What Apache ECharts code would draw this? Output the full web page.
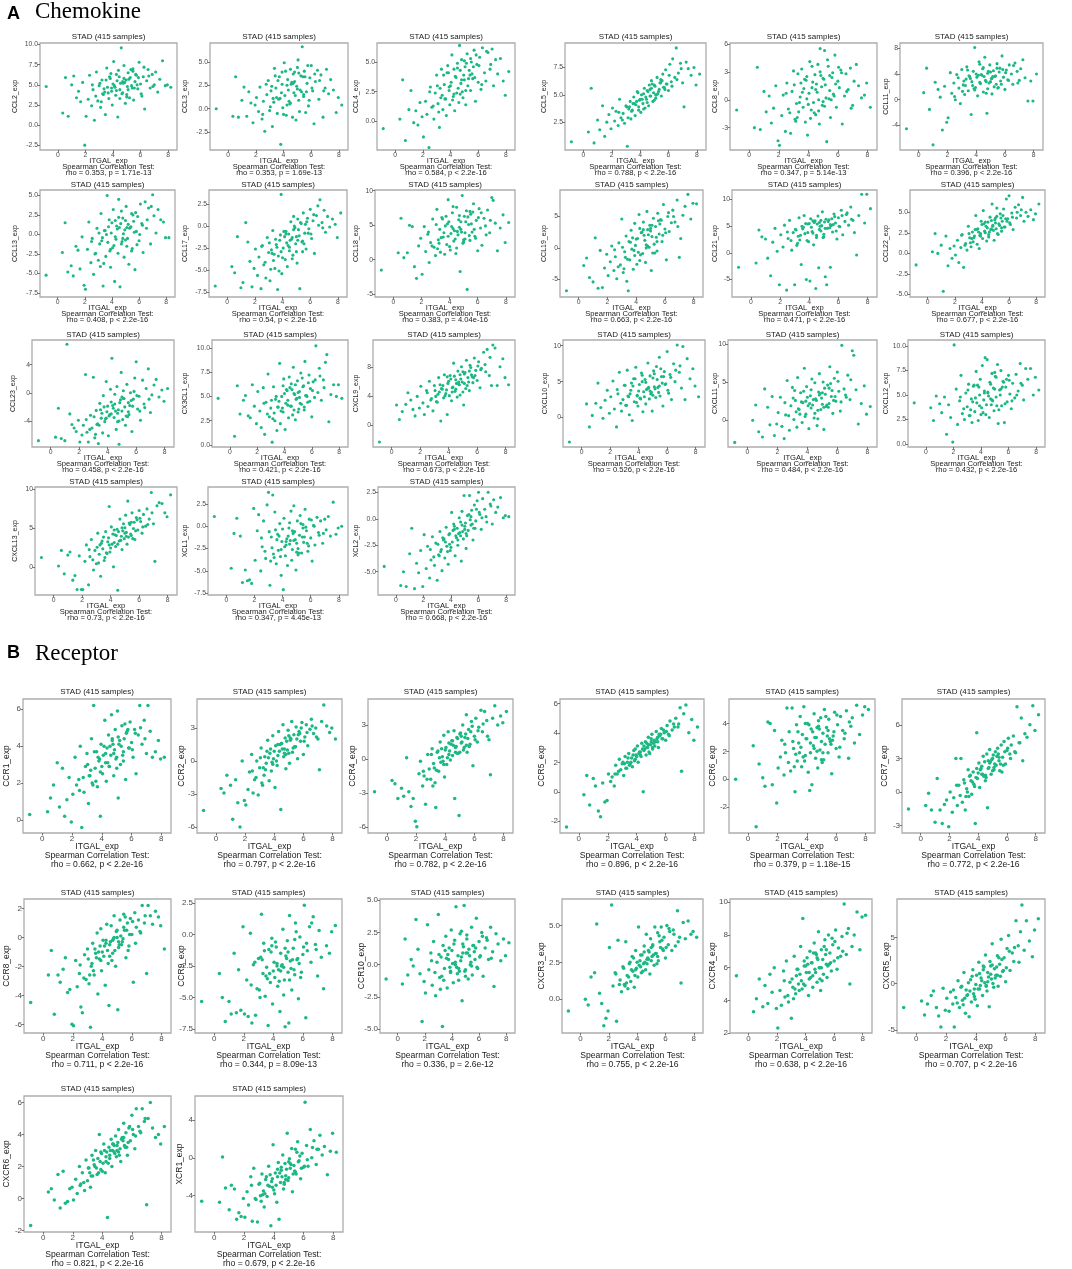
<!DOCTYPE html>
<html><head><meta charset="utf-8">
<script src="https://cdn.jsdelivr.net/npm/echarts@6.0.0/dist/echarts.min.js"></script>
<style>html,body{margin:0;padding:0;background:#fff}#c{width:1072px;height:1269px}</style>
</head><body><div id="c"></div>
<script>
// Shared x values (ITGAL_exp, same samples in every panel)
const ITGAL = [-0.85,0.35,0.55,0.75,1.0,1.15,1.35,1.5,1.65,1.8,1.95,2.05,
2.2,2.3,2.45,2.55,2.65,2.8,2.9,3.0,3.1,3.2,3.3,3.35,
3.45,3.55,3.65,3.7,3.8,3.9,3.95,4.05,4.1,4.2,4.3,4.35,
4.45,4.5,4.6,4.65,4.75,4.8,4.9,4.95,5.05,5.1,5.2,5.25,
5.35,5.45,5.5,5.6,5.7,5.8,5.9,6.0,6.1,6.2,6.3,6.45,
6.55,6.7,6.85,7.0,7.1,7.25,7.4,7.6,7.8,7.95,8.2,4.55,
3.25,3.6,3.85,4.0,4.25,4.4,4.7,4.85,5.0,5.15,5.4,5.65,
2.75,3.05,3.4,3.75,4.15,4.5,4.8,5.1,5.45,5.75,6.05,6.6,
2.5,3.15,3.5,3.9,4.25,4.7,5.0,5.3,5.55,5.85,6.25,6.9];

const CCL2 = [4.8,1.5,5.9,1.1,5.0,6.1,3.4,4.2,2.9,5.3,-2.5,1.1,
3.2,6.2,2.4,4.4,0.6,6.6,3.0,4.9,2.2,5.6,3.8,4.5,
1.3,7.1,4.0,3.3,5.8,4.6,2.5,7.9,4.9,3.7,5.5,1.0,
6.0,4.4,9.6,3.9,5.2,7.4,2.7,5.6,4.8,6.5,3.4,5.9,
4.9,7.0,3.1,5.4,6.2,4.5,7.8,5.1,3.6,6.0,2.0,5.5,
6.9,4.6,6.3,5.0,6.6,4.1,5.7,8.0,4.9,5.0,4.7,5.2,
3.9,4.7,6.4,5.1,4.3,6.8,4.0,5.3,3.5,5.7,4.6,6.3,
3.6,5.2,4.1,6.0,4.7,3.3,5.8,4.4,6.7,5.0,3.9,6.1,
5.0,2.9,5.6,4.2,6.3,5.4,3.8,6.9,4.6,5.9,7.2,4.8];
const CCL3 = [0.0,-0.8,3.4,-0.9,0.9,2.3,-0.8,1.8,0.6,-1.5,0.4,1.2,
-0.3,2.3,-1.1,0.8,-2.4,1.5,3.0,-0.2,1.9,-1.9,0.7,4.3,
2.2,-0.5,1.0,3.4,-3.8,2.6,0.1,4.9,1.4,-0.7,3.1,2.0,
0.5,4.2,2.8,-0.9,1.7,3.9,-1.2,2.4,5.2,0.9,2.0,3.5,
6.6,1.3,4.0,-0.4,2.7,0.3,3.3,4.6,1.9,-1.6,2.9,4.1,
1.0,3.6,-0.9,2.2,4.2,1.6,3.1,2.0,-0.4,1.2,0.4,2.6,
1.1,3.0,1.7,-0.6,2.5,0.8,3.7,1.4,2.1,-0.3,3.4,1.8,
2.6,0.2,3.5,1.1,4.0,0.6,2.9,3.8,1.5,4.6,2.2,3.0,
-0.6,2.4,1.2,3.9,0.4,2.7,4.4,1.8,3.4,0.9,3.7,1.9];
const CCL4 = [-0.6,0.2,3.5,-1.6,1.0,2.6,-0.1,0.9,-0.3,1.6,0.4,-1.3,
1.7,0.6,-2.2,2.9,1.2,0.2,2.4,3.9,1.5,-0.5,2.0,4.4,
1.0,3.1,1.9,0.5,4.7,2.6,1.4,3.3,5.6,2.1,0.9,3.8,
2.4,4.5,1.6,6.4,3.2,5.2,2.0,3.9,4.6,1.4,5.7,3.0,
4.3,2.6,5.0,3.6,6.0,1.7,4.8,3.3,5.4,2.7,6.2,4.1,
3.4,5.8,4.4,6.1,3.0,5.2,4.0,5.3,3.4,2.2,4.2,2.8,
2.8,1.9,4.1,3.0,2.3,3.7,4.3,2.5,3.5,4.9,3.9,4.6,
1.3,3.0,2.2,4.1,1.8,4.9,3.5,2.6,5.3,3.7,4.7,5.9,
2.5,0.8,3.9,2.9,4.4,2.3,5.1,3.6,4.0,5.6,3.1,4.8];
const CCL5 = [0.7,1.6,5.6,0.6,2.7,1.8,4.0,1.2,2.5,3.2,1.9,3.8,
2.6,3.5,2.2,4.6,2.9,3.3,2.4,4.0,0.3,3.7,4.4,2.8,
3.6,4.8,3.1,4.1,5.3,3.9,4.5,3.4,5.0,4.2,5.6,3.8,
4.6,5.4,4.0,5.9,4.9,6.3,4.4,5.2,5.8,4.7,6.6,5.1,
5.5,6.4,4.9,6.9,5.7,7.3,6.0,5.4,7.8,6.2,8.3,6.6,
9.3,7.0,7.9,6.1,3.9,8.0,7.4,6.8,7.5,5.9,6.9,5.3,
3.9,4.2,5.2,4.6,3.7,4.8,5.5,6.0,4.5,5.0,6.1,5.7,
2.7,3.9,3.5,4.4,4.6,4.3,5.6,5.0,6.1,5.5,6.8,6.4,
3.4,2.9,4.2,3.6,5.1,4.9,5.9,5.3,6.3,6.0,5.8,7.4];
const CCL8 = [-1.1,-3.0,3.5,-3.2,0.9,-1.3,0.4,-2.5,-0.9,1.5,-4.4,-4.9,
-1.7,0.5,-3.4,1.8,-1.0,-3.6,0.9,3.1,-2.1,-0.4,2.8,-1.3,
0.3,3.3,-0.8,1.2,-2.4,2.5,-3.8,0.7,4.1,-1.1,1.9,-0.3,
2.7,-1.6,0.8,3.8,-2.6,5.5,1.4,-0.6,2.2,5.3,0.2,-4.5,
3.6,1.0,-1.9,2.4,0.6,4.8,-0.8,2.0,1.3,3.2,-2.6,0.4,
2.8,1.1,3.4,-0.6,2.0,3.8,1.5,0.2,0.5,1.8,-0.8,1.7,
-1.9,0.8,2.1,-0.5,1.3,-1.4,0.0,2.6,-0.2,1.6,0.1,2.9,
-1.4,1.6,-0.3,2.2,-2.0,1.1,3.0,-0.7,2.6,0.4,3.5,0.9,
0.7,-2.3,1.8,0.1,3.6,-1.2,2.3,4.3,0.0,1.7,2.9,-0.9];
const CCL11 = [-4.5,1.1,4.9,-1.5,-7.0,2.7,1.6,0.4,-4.7,2.1,-3.5,-2.8,
4.2,1.0,2.6,0.0,3.9,1.8,-0.6,4.7,2.3,0.8,3.2,5.1,
1.4,3.6,-2.3,2.8,4.4,8.1,1.9,3.5,0.6,5.9,2.5,3.9,
4.8,1.2,6.6,3.0,-2.1,4.1,2.6,5.4,3.3,0.9,4.5,2.0,
3.7,5.6,1.8,4.3,2.9,6.8,3.5,1.6,4.6,3.1,5.4,4.0,
2.4,5.7,4.4,3.0,4.8,6.2,3.4,-0.2,2.9,-0.2,4.0,3.6,
2.2,3.3,1.7,4.0,2.7,3.8,1.0,4.4,2.8,3.6,2.4,4.9,
3.4,1.3,4.6,2.2,3.8,5.0,1.7,3.3,4.9,2.4,4.2,5.3,
0.5,2.9,3.7,1.5,5.5,2.8,4.3,3.6,1.9,4.7,3.0,2.6];
const CCL13 = [-5.2,-2.3,1.5,-4.8,-4.0,-5.3,-1.5,-2.0,-4.4,-0.3,-6.5,-7.0,
-1.9,1.6,-3.6,-0.5,-5.1,-2.4,0.8,-3.3,-1.2,2.7,-0.4,-6.6,
0.5,-2.8,5.0,-1.0,1.9,-4.2,0.2,-1.7,3.2,-6.0,-0.6,1.1,
-2.4,4.5,-6.7,1.4,-0.9,2.1,-2.9,0.6,3.6,-1.5,1.3,-3.8,
0.9,2.7,-1.8,1.7,-4.5,0.4,2.3,-0.8,3.9,1.4,-2.3,4.2,
0.8,3.4,-1.2,5.1,2.4,0.2,3.2,1.9,1.6,-0.4,-0.4,0.9,
-0.8,0.0,-2.1,1.5,-0.3,0.7,-1.2,0.1,1.8,-0.5,1.0,0.3,
-2.5,0.2,-3.7,1.0,-1.4,2.2,-0.5,0.9,-2.1,2.8,0.0,1.9,
-0.9,-4.1,0.5,-1.9,1.8,3.0,-0.7,0.8,2.5,-1.3,1.2,3.6];
const CCL17 = [-6.8,-4.6,-5.3,-1.2,-7.0,-6.4,0.4,-1.8,-4.0,-6.9,-4.8,-2.6,
-5.6,-3.5,-7.1,-2.2,-4.4,-5.9,-1.3,-3.0,-6.2,-2.7,-0.5,-3.9,
-4.8,-2.1,-7.2,-3.4,-1.6,3.6,-5.4,-2.5,-0.6,-3.8,-1.9,-4.6,
-0.9,-2.8,0.5,-1.5,-3.3,1.1,-0.2,-2.0,-4.2,0.8,-1.1,-7.1,
0.3,-1.7,1.5,-0.8,-2.6,0.9,-0.3,1.9,-1.4,0.6,-3.1,1.2,
2.3,3.0,0.4,1.8,-0.7,1.1,-0.1,0.8,0.2,-1.3,1.5,-1.6,
-3.1,-2.4,-1.0,-3.6,-0.9,-2.2,-1.3,0.0,-2.9,-0.4,-1.8,0.2,
-4.1,-1.9,-3.2,-5.1,-1.2,-2.4,-0.4,-1.6,-2.9,0.5,-0.9,0.1,
-2.3,-4.9,-1.5,-2.9,-0.6,-3.7,-1.2,0.4,-2.0,-0.8,1.3,-0.2];
const CCL18 = [-1.5,1.0,6.0,0.3,1.0,5.0,4.8,-1.0,-2.7,2.0,3.1,-2.1,
4.8,1.2,3.7,-0.4,2.5,5.9,1.8,0.6,7.3,2.9,4.4,1.1,
6.1,3.3,0.8,4.9,2.2,8.7,5.5,1.4,3.8,6.8,2.7,4.2,
0.9,7.6,3.6,5.8,-1.7,4.4,9.3,2.4,6.3,3.0,7.1,-4.3,
5.1,2.8,6.6,4.0,8.1,3.4,5.7,1.3,7.4,4.6,2.1,6.0,
4.9,7.2,3.9,9.0,8.6,5.3,1.3,4.6,6.5,2.5,5.4,4.1,
2.4,3.9,5.2,1.9,4.5,3.0,6.4,4.0,2.9,5.5,3.5,6.9,
2.0,5.1,3.2,6.3,4.8,1.7,5.5,3.9,7.0,4.4,6.1,3.6,
4.0,1.6,5.9,3.4,7.7,4.7,2.6,6.2,5.2,3.1,6.8,5.7];
const CCL19 = [-6.8,-2.8,-1.6,-4.7,-5.4,1.6,-6.4,-0.4,-6.3,-3.2,-1.0,-4.4,
-2.2,0.3,-3.6,-1.4,-4.9,0.8,-2.7,4.6,-3.9,-0.6,1.9,-5.3,
-6.8,-1.9,2.8,-0.2,-3.4,3.9,0.4,-2.6,1.5,5.3,-1.1,2.4,
-0.9,4.1,1.2,-2.3,5.8,2.9,0.1,3.6,-3.6,1.8,4.7,0.6,
3.4,-0.5,5.5,2.2,4.5,1.0,6.9,3.0,-1.9,5.0,2.6,4.0,
6.0,4.1,7.6,-1.5,1.5,5.2,6.6,8.5,4.6,7.1,7.0,2.0,
-1.5,0.9,-0.4,1.4,-2.0,2.5,0.0,2.1,3.1,-0.8,1.7,3.8,
-3.0,0.1,-1.8,1.6,-0.7,2.9,0.3,3.6,1.0,4.4,2.4,5.0,
-0.3,-3.3,1.0,-1.2,3.1,0.5,2.7,-0.8,4.3,2.0,5.6,3.4];
const CCL21 = [-2.7,-1.9,4.3,3.0,2.6,-1.0,-4.3,2.0,4.6,0.3,-6.0,3.4,
1.1,5.2,-7.0,2.7,6.1,0.5,3.8,-6.0,4.3,1.8,6.6,2.4,
-2.2,4.5,7.0,3.6,-5.0,5.4,2.1,-5.3,6.4,4.0,1.5,5.7,
-6.7,3.3,6.9,-2.8,5.0,4.1,7.7,2.9,5.8,-4.5,-6.0,4.6,
6.2,-2.7,5.1,3.9,7.3,5.6,2.6,6.6,4.9,8.0,3.4,5.9,
7.2,5.2,8.6,6.1,3.8,-0.4,7.0,11.0,5.6,11.0,8.3,5.4,
3.1,4.8,2.3,5.5,3.7,6.0,4.4,5.1,3.0,6.3,4.7,5.3,
2.3,4.4,3.3,5.5,4.8,2.9,6.1,4.6,5.3,6.8,5.0,7.5,
3.9,1.4,5.0,3.8,6.0,5.7,3.5,5.9,6.4,4.1,7.0,6.3];
const CCL22 = [-1.4,0.2,2.4,0.0,1.0,-4.6,2.1,-1.5,0.6,-0.6,0.9,-0.2,
1.6,-1.1,0.7,2.3,-1.7,1.2,0.4,3.3,1.9,0.8,2.6,1.4,
2.1,4.6,1.1,3.0,0.6,2.4,3.9,1.8,5.2,2.7,3.3,1.5,
3.8,2.0,4.4,2.9,6.0,3.4,1.6,4.1,3.0,5.5,2.3,3.6,
4.8,2.7,3.9,5.4,3.2,6.6,4.2,7.0,3.5,4.9,2.9,5.6,
4.3,5.9,4.6,6.8,3.9,5.0,4.5,5.3,4.1,4.8,6.0,2.6,
1.8,2.9,2.2,3.5,2.5,3.1,4.0,2.8,3.7,2.4,4.3,3.2,
1.0,2.4,1.9,2.6,3.6,2.3,3.3,4.5,3.1,4.2,3.7,5.0,
2.2,1.3,2.9,2.1,3.8,3.0,4.3,3.4,4.6,3.9,4.4,5.3];
const CCL23 = [-6.8,-6.3,-2.2,-6.5,-6.8,6.9,-3.0,-4.5,-5.0,-5.5,-3.9,-7.0,
-6.0,-4.6,2.6,-5.6,-7.0,-3.2,-5.0,2.2,-6.4,-2.5,-4.4,-7.2,
-1.5,-3.6,-5.7,-0.4,-4.1,1.6,-2.7,-6.1,-3.3,0.5,4.9,-1.8,
-3.5,-0.2,-5.2,0.9,-2.4,-7.3,-1.0,2.9,-3.8,0.3,-2.0,-4.6,
1.2,-1.4,-3.1,0.0,-5.5,-0.9,2.1,4.4,-2.3,-0.5,-3.9,1.8,
-1.6,0.6,3.4,-2.8,-0.3,1.1,1.9,-0.6,0.4,-1.2,0.6,-2.6,
-4.5,-2.9,-3.7,-1.9,-3.0,-2.2,-4.1,-1.4,-2.6,-0.8,-3.4,-1.1,
-5.2,-3.4,-4.6,-2.0,-3.1,-1.6,-4.0,-0.8,-2.7,-1.9,-0.4,-2.1,
-3.8,-5.9,-2.4,-3.6,-1.3,-2.9,-0.6,-3.3,-1.8,0.2,-2.6,-0.9];
const CX3CL1 = [4.8,0.9,6.1,3.2,4.6,5.1,3.0,2.8,6.2,4.0,2.2,5.5,
3.5,1.8,5.9,1.1,4.4,7.3,2.9,3.8,0.3,6.0,2.5,4.7,
1.5,3.9,8.4,2.2,5.0,3.4,6.8,1.6,4.3,5.6,2.8,7.0,
4.0,6.3,3.1,8.0,5.2,2.6,4.8,6.6,3.7,5.5,7.4,4.2,
6.0,3.6,8.6,5.1,4.4,7.2,5.8,2.9,6.5,4.9,10.2,5.4,
7.9,4.6,6.7,8.5,9.3,2.4,5.2,6.2,5.0,6.2,4.8,5.7,
3.3,4.5,3.8,5.3,4.1,5.9,3.6,4.7,5.4,4.3,6.1,5.0,
3.2,4.6,5.0,3.5,5.7,4.0,6.2,4.9,3.9,6.4,5.6,7.1,
4.3,2.7,3.9,6.1,4.6,5.3,3.4,6.9,5.1,4.5,6.7,5.9];
const CXCL9 = [-2.3,2.8,0.8,1.9,2.9,4.5,3.5,2.2,1.3,4.0,2.4,5.4,
3.1,1.5,4.8,2.6,6.1,3.7,2.0,5.5,4.0,3.2,6.6,4.6,
0.6,5.0,3.8,7.0,4.4,1.5,5.8,4.1,6.9,3.4,5.3,8.6,
4.7,6.3,3.9,7.5,5.6,4.2,8.1,6.0,2.8,7.1,5.1,9.0,
6.6,4.8,8.3,7.0,5.9,9.3,7.6,6.2,8.8,5.2,7.9,10.1,
8.4,10.5,6.9,5.5,11.1,10.7,5.5,8.1,9.2,6.6,5.6,5.8,
4.3,5.5,4.9,6.1,5.2,6.8,5.7,6.4,4.6,7.3,6.0,6.7,
3.5,4.8,5.6,4.1,6.4,5.0,7.0,5.8,7.5,6.6,8.2,7.4,
4.5,3.3,5.1,6.7,4.6,6.0,7.4,5.5,8.0,6.9,7.7,9.4];
const CXCL10 = [-3.4,1.9,-1.3,0.3,2.0,4.8,1.4,-0.1,2.4,3.8,0.6,2.9,
5.1,1.2,-1.3,3.3,6.3,0.9,2.5,4.5,1.7,6.6,2.9,0.4,
3.8,-0.4,5.4,2.2,7.0,3.1,1.6,4.6,2.7,6.2,0.8,3.6,
5.3,1.9,4.0,7.6,2.6,5.8,3.5,0.9,6.5,4.3,2.8,7.1,
4.2,8.4,3.0,5.7,1.6,6.4,4.7,9.2,3.4,6.0,2.5,7.5,
5.0,10.1,6.3,4.1,9.9,2.5,8.2,5.4,6.8,4.4,2.9,3.9,
3.0,4.4,2.1,3.7,5.0,2.9,4.1,3.3,5.5,4.0,3.5,4.8,
2.0,4.5,3.3,5.4,2.6,4.9,3.7,6.1,4.4,5.7,3.8,6.6,
3.9,1.7,4.8,3.0,5.9,4.2,3.1,5.3,6.8,4.6,5.6,7.2];
const CXCL11 = [-2.9,0.0,2.0,-1.5,-2.2,4.1,1.7,-0.6,3.1,-2.0,-0.5,1.0,
3.0,-0.8,-2.4,0.7,5.2,-1.3,1.9,4.3,0.1,2.6,-0.9,5.6,
1.4,3.6,-0.3,2.3,6.8,0.8,4.4,1.9,-1.1,3.2,5.4,2.0,
0.3,4.9,2.6,-0.7,3.7,6.1,1.4,2.9,5.0,-1.2,3.4,1.8,
4.6,2.2,7.0,3.1,0.9,5.5,2.5,6.3,3.8,1.2,9.8,4.1,
3.3,5.9,2.7,9.1,8.5,4.0,-0.5,2.2,4.5,0.8,1.8,2.8,
1.1,2.4,0.5,3.0,1.6,2.7,0.2,3.5,2.1,4.2,1.7,3.9,
0.6,2.9,1.5,3.8,2.2,0.9,3.3,1.7,4.2,2.6,5.1,3.0,
2.3,3.9,0.8,2.5,4.0,1.3,3.6,2.0,4.8,3.1,2.4,5.3];
const CXCL12 = [4.2,3.7,2.4,4.9,4.1,3.2,4.8,1.0,4.0,2.7,0.2,10.1,
5.6,2.0,4.4,7.0,3.1,2.5,5.2,3.8,6.1,2.9,4.6,2.2,
5.9,3.3,7.4,4.2,2.4,5.0,6.6,3.7,8.0,4.5,8.8,3.0,
8.6,5.3,2.7,6.3,4.0,7.2,5.7,3.4,6.9,4.8,8.1,2.1,
5.5,7.5,3.9,6.4,2.2,5.8,4.3,7.0,5.1,3.6,6.2,4.7,
7.1,5.4,8.2,6.0,4.5,7.7,6.6,7.7,5.0,6.8,5.5,4.9,
3.5,4.7,5.8,3.0,5.2,4.0,6.1,4.4,5.6,3.9,5.0,6.3,
3.6,5.5,4.3,6.0,3.2,5.2,4.5,6.8,5.6,4.1,6.5,5.0,
4.8,2.9,6.0,3.9,5.4,4.6,7.3,3.5,5.8,6.6,4.4,6.2];
const CXCL13 = [1.3,0.2,2.2,-0.8,1.6,2.0,-1.6,-1.0,-2.8,1.5,-2.8,-2.8,
0.8,2.9,-2.2,1.4,3.6,-0.3,2.2,0.5,4.4,1.7,-1.1,3.1,
2.4,0.9,4.6,1.9,3.3,7.8,2.0,5.2,3.0,0.1,4.2,2.7,
4.9,-2.9,3.4,6.2,4.0,2.3,5.6,3.7,6.7,4.5,8.5,3.9,
5.5,4.1,7.0,5.0,3.6,6.4,4.8,7.3,5.9,4.4,6.8,5.3,
7.5,6.2,9.6,5.6,0.8,7.9,8.3,8.2,7.0,6.5,9.3,4.6,
2.9,1.3,3.8,2.5,3.2,4.1,3.5,4.7,5.1,3.0,4.3,5.8,
1.0,2.6,3.4,1.8,4.3,3.0,5.1,4.0,5.8,4.7,6.3,5.5,
2.3,0.6,3.9,2.9,4.8,3.5,4.4,5.7,3.7,6.1,5.2,7.0];
const XCL1 = [1.1,-4.7,-0.8,0.9,-1.1,-6.3,-4.9,-6.1,-6.0,-6.4,2.0,-3.8,
-0.5,1.3,-5.0,-2.3,0.6,-3.6,2.4,3.8,-6.6,-1.2,3.5,-3.1,
1.6,-4.2,-0.9,-2.7,0.3,-5.5,-1.7,-7.1,0.9,-3.3,-1.4,-4.4,
-0.2,-2.0,1.7,-3.8,-0.8,2.3,-1.5,-4.9,0.6,-2.5,-1.0,1.2,
-3.0,0.2,-1.8,1.9,-0.5,-2.8,0.8,-1.3,-3.9,0.1,-2.1,1.0,
-0.7,0.6,-1.9,0.8,-0.4,1.1,-1.1,2.7,-0.9,-0.2,0.0,-1.6,
-2.4,-1.5,-3.4,-0.3,-2.1,-1.1,-2.6,-0.6,-1.9,-3.0,-1.2,-0.1,
-2.8,-0.6,-3.5,-1.1,-2.3,0.4,-1.6,-3.2,-0.2,-1.9,0.7,-1.0,
-1.3,-3.9,-0.4,-2.6,-1.7,-0.5,-2.9,0.3,-1.2,-2.2,0.0,-0.8];
const XCL2 = [-4.5,-6.3,-5.0,-6.4,-3.3,-0.9,-6.6,-4.2,-5.1,-3.0,-6.4,-1.5,
-4.7,-2.6,-5.6,-3.9,-1.7,-4.4,-2.3,-5.8,-3.4,-1.2,-2.9,-4.9,
-2.0,-3.7,-0.8,-2.6,-4.3,-1.4,-3.0,0.6,-2.2,-0.5,-3.5,-1.6,
-0.9,-2.5,0.1,-1.3,-4.0,0.7,-1.9,2.2,-0.4,-2.8,0.3,-1.1,
2.2,-0.6,0.8,-2.0,1.3,-0.2,1.7,2.5,0.4,-1.0,1.9,0.9,
0.2,2.5,1.4,-0.5,1.8,0.6,1.1,2.0,0.1,0.3,0.2,-1.4,
-3.1,-2.2,-1.5,-2.7,-1.0,-1.8,-0.3,-1.2,-0.7,-1.6,-0.1,-0.9,
-3.6,-2.4,-1.8,-3.1,-1.1,-2.0,-0.6,-1.4,0.2,-0.9,0.6,-0.3,
-2.9,-3.5,-1.9,-2.4,-0.7,-1.6,-1.0,0.4,-0.5,0.9,0.1,1.2];
const CCR1 = [0.3,0.45,1.2,1.9,3.1,0.7,2.8,0.2,1.1,2.3,-0.1,1.4,
3.4,1.9,2.2,4.0,-0.4,1.5,2.9,3.6,0.9,2.4,4.4,2.0,
6.2,2.8,3.7,1.8,3.2,0.2,4.1,2.5,3.5,5.4,2.1,3.9,
4.6,2.9,3.5,5.7,4.1,2.4,4.9,3.3,5.9,1.2,4.3,3.0,
5.1,3.7,4.4,2.2,4.8,3.9,5.3,4.2,3.4,4.9,2.5,4.6,
6.2,4.1,5.4,3.6,6.2,4.8,3.4,3.7,4.3,3.3,3.4,4.0,
2.7,2.1,3.3,2.9,3.6,3.1,4.4,3.8,2.8,4.1,3.5,4.7,
2.3,3.0,1.9,3.4,4.0,2.9,3.6,4.5,3.2,4.9,3.8,5.0,
1.6,2.4,3.7,2.6,3.1,4.3,3.4,4.0,5.2,3.9,4.7,4.4];
const CCR2 = [-4.5,-2.5,-2.9,-1.3,-2.2,-5.3,-1.7,-3.8,-6.0,0.0,-3.6,-4.0,
-2.6,-1.0,0.6,-2.9,-1.7,0.0,-3.1,-0.6,1.2,-2.2,-1.3,0.4,
-0.2,1.9,-1.8,0.7,-0.9,2.3,0.2,-2.4,1.4,-0.4,2.7,0.9,
-4.4,1.6,3.3,0.4,2.1,-0.7,1.0,2.8,-0.2,1.9,3.6,0.8,
2.4,1.3,3.1,0.2,2.7,1.8,3.5,0.6,2.2,3.3,1.4,2.9,
3.8,2.5,3.0,2.0,-0.8,3.6,5.1,3.2,2.6,3.0,2.0,1.1,
-0.6,0.3,-0.1,0.9,0.5,1.5,1.1,1.8,0.7,2.0,1.3,2.4,
-1.5,0.3,-0.8,1.1,0.0,1.6,0.6,2.1,1.3,2.5,1.8,3.2,
-0.9,-2.0,0.9,-0.3,1.5,0.7,2.3,1.2,2.0,3.0,2.6,2.2];
const CCR4 = [-2.9,-1.9,-2.2,-3.5,-2.6,-3.3,0.1,-2.9,-4.2,-3.5,-5.5,-6.0,
-1.3,-0.2,-2.4,-1.5,-4.0,0.4,-0.9,-1.8,0.9,-0.4,-2.1,-4.3,
0.6,-1.1,1.5,-0.3,0.2,2.1,-1.6,1.0,-0.5,2.4,0.7,-0.1,
1.6,0.3,2.5,-3.5,1.1,1.9,0.5,-5.0,2.3,1.4,3.0,0.8,
1.9,3.9,0.6,2.6,1.3,3.3,-0.6,2.0,3.6,1.5,2.8,4.3,
2.4,4.2,3.4,1.7,-1.4,3.6,4.7,3.0,3.8,3.2,4.2,1.2,
-0.8,0.1,-0.2,0.8,0.4,1.3,1.0,1.8,0.6,1.5,2.2,1.1,
-1.8,0.4,-1.0,0.9,0.1,1.6,0.5,2.0,1.2,2.4,1.7,3.1,
-1.1,-2.4,0.7,-0.5,1.4,0.6,2.2,1.0,1.8,2.9,2.5,2.0];
const CCR5 = [-2.4,-0.2,1.1,-0.9,0.9,0.4,-1.3,-1.7,0.6,-0.7,-0.6,1.2,
0.7,1.0,0.4,1.8,1.2,2.2,1.5,1.9,1.1,2.4,1.6,2.0,
2.6,1.9,2.3,1.7,2.8,2.2,2.5,3.1,2.0,2.7,2.4,3.3,
0.0,2.8,3.4,2.5,3.0,3.7,2.6,3.2,3.9,2.9,3.5,3.1,
4.1,3.4,3.0,3.8,4.3,3.6,4.0,3.5,4.5,3.9,4.8,4.2,
4.6,5.0,4.4,5.7,1.4,5.3,5.9,4.0,4.9,3.5,4.4,2.9,
1.6,2.0,2.1,2.4,2.7,2.9,3.0,2.7,3.4,3.3,3.6,3.9,
1.4,2.0,2.3,2.5,2.6,3.1,3.2,3.0,3.7,3.6,4.1,4.4,
1.2,1.9,1.8,2.9,2.5,3.3,3.6,3.4,3.9,4.2,3.8,4.6];
const CCR6 = [0.0,2.4,-3.4,1.1,0.1,-0.5,4.1,4.0,-0.4,3.5,-1.7,0.8,
1.6,2.8,0.3,1.9,5.1,3.4,0.6,5.1,2.2,-0.9,3.9,1.3,
2.6,4.5,0.9,3.2,5.2,1.7,2.9,4.0,0.5,-0.8,3.6,-0.4,
2.4,4.7,1.5,3.0,0.8,3.8,2.1,4.4,1.2,3.3,5.0,2.5,
3.7,1.9,4.3,2.7,0.4,3.1,4.8,2.2,3.9,1.6,4.5,3.5,
2.9,4.9,1.5,3.8,4.4,2.6,5.3,3.2,4.6,5.2,5.0,3.0,
1.8,2.3,1.3,2.9,1.9,3.4,2.0,3.6,2.7,1.4,3.1,2.5,
1.2,2.7,3.4,1.6,3.9,2.2,4.2,1.9,3.5,2.8,4.6,3.3,
2.5,0.9,1.9,4.0,2.6,3.7,1.4,4.5,2.9,3.4,2.3,4.1];
const CCR7 = [-1.5,-1.2,-0.1,-1.6,-2.7,1.2,-1.6,-2.8,-1.1,-0.7,-3.1,0.0,
-1.8,-0.5,3.0,-1.2,0.6,3.0,-0.9,1.1,-1.6,0.3,2.0,-0.4,
1.5,-0.2,1.8,0.7,-2.8,5.3,1.2,2.6,0.4,2.1,1.6,3.2,
2.7,1.0,3.4,-1.4,2.2,3.8,1.6,2.9,3.3,2.0,3.6,2.4,
3.9,2.8,1.9,4.2,3.1,4.5,2.5,3.7,4.8,3.4,4.2,5.0,
3.6,7.6,4.4,6.6,2.8,5.2,4.9,6.0,7.7,5.5,6.9,1.3,
0.0,0.9,1.3,1.7,2.3,1.4,2.1,2.7,3.0,2.5,3.4,1.8,
-0.3,0.8,1.4,0.5,2.0,1.5,2.6,2.2,3.1,2.4,3.9,3.5,
0.6,-0.4,1.0,2.1,1.6,2.8,1.9,3.2,2.5,3.6,3.0,4.4];
const CCR8 = [-4.5,-2.6,-0.9,-5.3,-2.6,-3.1,-2.2,-1.4,-3.8,-3.6,-6.0,-6.1,
-1.6,-3.4,-2.5,-4.8,-5.2,-1.2,-2.9,-0.8,-3.2,-6.2,-1.8,-0.4,
-2.6,-1.1,0.3,-3.9,-1.5,0.6,-2.3,-0.2,-1.3,-3.3,0.9,-0.9,
-4.7,-0.5,0.8,-1.6,-0.1,1.5,-2.0,0.4,-5.0,-0.7,1.2,0.1,
-0.3,1.6,0.5,-1.4,1.0,-0.6,1.3,0.2,-3.1,1.7,0.7,1.2,
0.4,2.2,1.0,-2.5,2.2,1.5,0.9,1.8,1.4,0.8,-0.8,-0.3,
-2.0,-1.4,-0.6,-1.0,-0.4,-1.8,-0.2,-0.9,0.0,-0.5,-0.1,0.5,
-2.8,-1.5,-2.3,-1.0,-0.6,-1.3,0.0,-0.3,0.7,-0.9,1.1,0.3,
-1.9,-2.6,-0.8,-1.6,-0.2,-1.1,0.5,-0.5,1.4,0.2,-0.4,1.5];
const CCR9 = [-5.3,-3.1,-5.0,-6.9,-5.3,-6.3,-1.5,-6.2,-2.8,-6.0,0.6,-6.3,
-3.6,-6.5,0.1,-7.0,-2.4,-6.4,-4.3,-1.9,-5.0,1.6,-3.1,-0.7,
-4.9,-2.6,-7.2,-1.2,-3.8,-0.3,-5.5,-2.2,-3.4,-1.0,-4.1,-2.8,
-6.1,-1.5,-2.4,0.4,-3.6,-7.3,-1.9,-0.5,-7.0,1.5,-2.7,-4.4,
-1.1,-3.2,0.9,-2.0,-5.1,-0.2,-3.0,-1.6,2.3,-6.6,-1.3,0.6,
-2.2,1.4,-0.8,-3.3,0.3,-1.8,-4.3,-0.9,-1.5,0.2,0.7,-2.5,
-2.0,-3.5,-1.4,-2.9,-2.3,-3.7,-2.6,-1.7,-3.0,-2.1,-2.8,-1.9,
-2.2,-4.4,-1.3,-3.1,-0.6,-2.9,-1.1,-3.6,-0.4,-2.3,-1.0,0.9,
-4.0,-1.8,-3.3,-0.9,-2.5,-4.8,-1.4,-2.0,0.2,-3.4,-0.7,-1.2];
const CCR10 = [-1.1,-1.5,2.0,-0.8,0.4,-0.1,3.5,1.2,-0.7,-4.4,-1.3,-2.2,
3.1,-0.4,0.9,-1.6,1.8,-2.4,0.2,3.9,-1.0,0.6,-4.8,1.5,
-0.3,2.2,-1.8,0.8,1.3,-0.6,2.7,0.1,-1.4,1.9,4.5,-0.2,
0.7,-1.2,2.4,0.3,-2.8,1.6,4.6,-0.5,0.9,2.3,-1.1,1.2,
0.0,2.9,-0.8,1.5,0.4,3.6,-0.3,1.8,0.7,2.5,-0.9,1.3,
2.1,0.4,2.9,1.0,-1.7,2.4,1.6,0.3,2.0,0.7,1.7,-0.5,
-0.9,0.5,-0.2,1.1,0.0,-0.7,0.6,1.4,-0.4,0.9,0.2,1.0,
-0.6,0.8,-1.2,0.4,1.6,-0.3,0.9,2.0,-0.1,1.3,0.6,1.9,
0.3,-1.9,1.1,-0.5,0.2,2.6,-0.9,0.7,1.5,-0.2,2.2,0.5];
const CXCR3 = [-0.8,0.0,-0.4,1.5,1.8,5.1,0.4,-0.3,-1.8,-1.3,-0.8,3.5,
6.4,0.9,1.8,-1.5,4.0,1.3,0.5,2.2,1.0,3.9,1.6,0.7,
2.4,1.2,2.9,1.9,0.8,3.3,2.1,1.5,4.9,2.6,1.8,3.0,
2.4,3.6,2.0,4.4,2.8,3.3,1.7,4.1,2.9,3.7,2.3,4.9,
3.1,4.5,2.6,3.9,4.9,3.4,4.2,2.8,5.0,3.7,4.6,3.3,
4.7,3.6,6.0,4.2,1.1,5.2,4.1,5.3,4.4,4.6,4.2,2.5,
1.1,2.0,1.6,2.5,2.2,1.9,2.7,3.2,2.6,3.0,2.4,3.5,
1.0,2.1,1.5,2.8,2.3,3.2,2.7,3.6,2.9,4.0,3.5,4.4,
1.7,0.9,2.5,2.0,3.0,2.4,3.5,3.1,4.3,3.3,4.8,3.9];
const CXCR4 = [5.5,3.3,4.1,5.3,3.6,4.9,3.8,5.6,4.5,6.0,3.5,2.3,
4.6,3.7,5.8,4.2,6.4,3.9,5.1,2.9,4.8,6.7,4.4,5.5,
5.9,4.6,7.3,5.2,9.0,6.1,4.9,5.7,6.6,4.3,7.0,5.4,
6.3,4.8,7.5,5.9,6.8,5.1,8.2,6.0,4.6,7.1,6.5,5.6,
7.7,6.2,5.4,8.0,6.9,5.8,7.4,6.4,8.3,5.9,7.2,6.7,
7.9,9.9,6.8,8.4,5.0,7.3,8.0,9.4,7.1,9.1,9.2,6.9,
4.7,5.6,5.0,6.1,5.3,6.3,5.7,6.5,6.0,5.2,6.8,6.2,
4.3,5.3,5.9,4.7,6.2,5.5,6.6,6.0,7.1,6.3,7.6,7.0,
5.2,4.1,5.0,6.4,5.7,6.9,5.3,7.3,6.1,7.8,6.6,8.1];
const CXCR5 = [-2.6,-1.9,-3.4,-2.2,-1.3,-0.8,-2.6,-3.5,-4.7,-0.5,-2.9,-1.6,
-3.0,-0.9,-2.2,-4.7,-1.5,0.3,-2.6,-0.4,-1.8,1.2,-3.2,-0.7,
-1.2,-3.6,0.4,-2.0,1.5,-0.6,-1.7,0.9,-2.4,2.3,-0.2,0.6,
-1.3,1.9,0.1,3.1,-0.8,1.2,-2.5,2.4,0.5,4.3,-0.4,1.6,
0.9,3.0,-0.3,2.1,4.8,1.3,2.8,0.2,3.8,5.2,1.4,3.3,
2.4,6.8,4.1,5.6,8.5,3.6,6.8,4.6,2.9,5.8,7.0,1.8,
-1.6,-0.8,-1.1,-0.1,-0.6,0.3,-0.3,0.7,1.0,0.0,1.8,0.8,
-2.1,-0.3,-1.3,0.8,-0.6,1.5,0.2,2.0,0.9,2.6,1.7,3.9,
-0.7,-2.3,0.1,-1.4,1.1,-0.2,1.9,0.6,2.8,1.4,3.5,2.3];
const CXCR6 = [-1.7,0.4,0.6,-0.1,1.5,-0.6,1.7,-0.3,-0.2,0.6,0.7,-0.1,
1.2,0.3,2.0,0.9,1.6,0.5,2.4,1.1,1.9,0.7,2.7,1.4,
2.1,3.0,1.5,2.5,4.0,1.8,2.8,2.2,3.4,1.6,2.9,-1.2,
3.2,2.5,3.7,2.0,3.4,2.9,3.9,2.6,3.5,4.3,3.1,2.3,
3.8,4.7,3.3,4.1,2.7,4.4,3.6,5.2,4.0,3.1,5.6,4.5,
4.2,5.6,4.8,-0.4,5.0,6.0,4.4,3.8,4.0,3.4,4.5,3.0,
1.4,1.9,2.3,1.7,2.6,2.2,3.0,2.8,3.3,2.7,3.6,3.2,
1.0,1.9,2.4,1.6,3.0,2.7,3.3,2.9,3.8,3.5,4.3,4.1,
0.8,1.6,2.0,2.9,2.3,3.4,3.0,3.7,3.2,4.5,3.9,5.0];
const XCR1 = [-4.6,-4.7,0.1,-3.2,-5.5,-2.9,-3.3,-6.5,-5.8,-6.2,-4.3,-6.3,
-3.6,-5.0,-2.0,-6.7,-1.1,-4.4,-6.8,-2.8,-4.0,-1.7,-3.5,-5.2,
-2.3,-4.1,-0.9,-3.0,-7.2,-2.2,1.4,-3.8,-1.6,-4.7,-0.5,-6.5,
-2.6,-1.3,0.3,-3.3,-0.6,-1.9,2.6,-2.4,-0.1,-1.1,1.0,-3.6,
-0.8,0.9,-1.7,1.7,-0.3,-2.2,0.5,-1.0,5.9,1.3,-0.9,3.0,
0.0,1.8,-0.7,0.9,2.4,0.3,1.2,-1.8,0.7,2.6,0.6,-2.0,
-3.9,-2.9,-2.5,-3.4,-2.0,-1.6,-2.8,-1.2,-2.1,-0.7,-1.4,-0.4,
-4.3,-2.7,-3.8,-1.8,-2.9,-1.0,-2.3,-0.6,-1.5,0.2,-0.9,1.1,
-2.9,-4.6,-2.0,-3.1,-1.2,-2.6,-0.4,-1.7,0.6,-1.1,-0.2,0.9];

// Panel labels and statistics
const GENES = ['CCL2','CCL3','CCL4','CCL5','CCL8','CCL11','CCL13','CCL17','CCL18','CCL19','CCL21','CCL22',
 'CCL23','CX3CL1','CXCL9','CXCL10','CXCL11','CXCL12','CXCL13','XCL1','XCL2',
 'CCR1','CCR2','CCR4','CCR5','CCR6','CCR7','CCR8','CCR9','CCR10','CXCR3','CXCR4','CXCR5','CXCR6','XCR1'];
const GENE_VALUES = [CCL2,CCL3,CCL4,CCL5,CCL8,CCL11,CCL13,CCL17,CCL18,CCL19,CCL21,CCL22,
 CCL23,CX3CL1,CXCL9,CXCL10,CXCL11,CXCL12,CXCL13,XCL1,XCL2,
 CCR1,CCR2,CCR4,CCR5,CCR6,CCR7,CCR8,CCR9,CCR10,CXCR3,CXCR4,CXCR5,CXCR6,XCR1];
const STATS = ['rho = 0.353, p = 1.71e-13','rho = 0.353, p = 1.69e-13','rho = 0.584, p < 2.2e-16','rho = 0.788, p < 2.2e-16','rho = 0.347, p = 5.14e-13','rho = 0.396, p < 2.2e-16',
 'rho = 0.408, p < 2.2e-16','rho = 0.54, p < 2.2e-16','rho = 0.383, p = 4.04e-16','rho = 0.663, p < 2.2e-16','rho = 0.471, p < 2.2e-16','rho = 0.677, p < 2.2e-16',
 'rho = 0.458, p < 2.2e-16','rho = 0.421, p < 2.2e-16','rho = 0.673, p < 2.2e-16','rho = 0.526, p < 2.2e-16','rho = 0.484, p < 2.2e-16','rho = 0.432, p < 2.2e-16',
 'rho = 0.73, p < 2.2e-16','rho = 0.347, p = 4.45e-13','rho = 0.668, p < 2.2e-16',
 'rho = 0.662, p < 2.2e-16','rho = 0.797, p < 2.2e-16','rho = 0.782, p < 2.2e-16','rho = 0.896, p < 2.2e-16','rho = 0.379, p = 1.18e-15','rho = 0.772, p < 2.2e-16',
 'rho = 0.711, p < 2.2e-16','rho = 0.344, p = 8.09e-13','rho = 0.336, p = 2.6e-12','rho = 0.755, p < 2.2e-16','rho = 0.638, p < 2.2e-16','rho = 0.707, p < 2.2e-16',
 'rho = 0.821, p < 2.2e-16','rho = 0.679, p < 2.2e-16'];
const PANEL_TITLE = 'STAD (415 samples)';
const X_NAME = 'ITGAL_exp';
const TEST_NAME = 'Spearman Correlation Test:';

// Axis scales
const X_RANGE = [-1.3, 8.65];
const X_TICKS = [0, 2, 4, 6, 8];
const Y_RANGE = [[-3.1,10.2],[-4.4,7.0],[-2.4,6.6],[-0.05,9.75],[-5.4,6.1],[-7.8,8.8],
 [-8.0,5.7],[-8.05,4.1],[-5.4,10.1],[-7.8,9.2],[-8.3,11.8],[-5.3,7.7],
 [-7.7,7.5],[-0.2,10.8],[-3.0,11.8],[-4.1,10.8],[-3.5,10.5],[-0.3,10.6],
 [-3.5,10.3],[-7.7,4.4],[-7.2,3.0],
 [-0.7,6.55],[-6.55,5.65],[-6.55,5.3],[-2.8,6.3],[-3.85,5.75],[-3.65,8.3],
 [-6.6,2.65],[-7.8,2.8],[-5.3,5.1],[-2.3,6.8],[2.0,10.2],[-5.35,9.15],
 [-2.1,6.4],[-7.85,6.55]];
const Y_TICKS = [[-2.5,0,2.5,5,7.5,10],[-2.5,0,2.5,5],[0,2.5,5],[2.5,5,7.5],[-3,0,3,6],[-4,0,4,8],
 [-7.5,-5,-2.5,0,2.5,5],[-7.5,-5,-2.5,0,2.5],[-5,0,5,10],[-5,0,5],[-5,0,5,10],[-5,-2.5,0,2.5,5],
 [-4,0,4],[0,2.5,5,7.5,10],[0,4,8],[0,5,10],[0,5,10],[0,2.5,5,7.5,10],
 [0,5,10],[-7.5,-5,-2.5,0,2.5],[-5,-2.5,0,2.5],
 [0,2,4,6],[-6,-3,0,3],[-6,-3,0,3],[-2,0,2,4,6],[-2,0,2,4],[-3,0,3,6],
 [-6,-4,-2,0,2],[-7.5,-5,-2.5,0,2.5],[-5,-2.5,0,2.5,5],[0,2.5,5],[2,4,6,8,10],[-5,0,5],
 [-2,0,2,4,6],[-4,0,4]];
const Y_DEC = [1,1,1,1,0,0, 1,1,0,0,0,1, 0,1,0,0,0,1, 0,1,1, 0,0,0,0,0,0, 0,1,1,1,0,0, 0,0];

// Layout (pixels)
const PANEL_ROW = [0,0,0,0,0,0,1,1,1,1,1,1,2,2,2,2,2,2,3,3,3,4,4,4,4,4,4,5,5,5,5,5,5,6,6];
const ROW_Y = [[43,150],[190,297],[340,447],[487,595],[699,833],[899,1033],[1096,1232]];
const TITLE_Y = [37,185,335,482,692,893,1089];
const FRAME_X = [[40,177],[210,348],[377,515],[565,706],[730,877],[900,1043],
 [40,175],[209,347],[375,515],[560,703],[732,877],[910,1045],
 [32,174],[212,348],[373,515],[563,705],[728,877],[908,1045],
 [35,177],[208,348],[378,515],
 [23,171],[197,342],[368,513],[560,704],[729,875],[902,1045],
 [24,171],[195,342],[380,515],[562,703],[730,872],[897,1045],
 [24,171],[195,343]];
const NAME_X = [15,185,356,544,715,886, 15,185,356,544,715,886, 13,185,356,545,715,886, 15,185,356,
 7,182,353,542,713,885, 7,182,362,542,713,887, 7,180];

const SANS = '"Liberation Sans", Arial, Helvetica, sans-serif';
const SERIF = '"Liberation Serif", "Times New Roman", serif';
const DOT = '#1cb884';

const chart = echarts.init(document.getElementById('c'), null, {renderer:'canvas'});
const grid=[], xAxis=[], yAxis=[], series=[], graphic=[];

function txt(x, y, s, size, opts) {
  opts = opts || {};
  graphic.push({type:'text', x:x, y:y, rotation:opts.rot||0, silent:true,
    style:{text:s, fontSize:size, fontFamily:opts.family||SANS, fontWeight:opts.weight||'normal',
      fill:opts.color||'#1a1a1a', align:opts.align||'center', verticalAlign:'middle'}});
}

GENES.forEach((g, i) => {
  const r = PANEL_ROW[i], big = r >= 4;
  const L = FRAME_X[i][0], R = FRAME_X[i][1];
  const T = ROW_Y[r][0], B = ROW_Y[r][1];
  const cx = (L + R) / 2;
  const tickFs = big ? 8 : 6.8;
  grid.push({left:L, top:T, width:R-L, height:B-T, show:true, borderColor:'#adadad', borderWidth:1.3, backgroundColor:'#ffffff'});
  xAxis.push({gridIndex:i, type:'value', min:X_RANGE[0], max:X_RANGE[1], position:'bottom',
    axisLine:{show:false, onZero:false}, splitLine:{show:false},
    axisTick:{show:true, length:2.5, customValues:X_TICKS, lineStyle:{color:'#555', width:0.8}},
    axisLabel:{customValues:X_TICKS, fontSize:tickFs, color:'#4d4d4d', margin:2, fontFamily:SANS}});
  const dec = Y_DEC[i];
  yAxis.push({gridIndex:i, type:'value', min:Y_RANGE[i][0], max:Y_RANGE[i][1], position:'left',
    axisLine:{show:false, onZero:false}, splitLine:{show:false},
    axisTick:{show:true, length:2.5, customValues:Y_TICKS[i], lineStyle:{color:'#555', width:0.8}},
    axisLabel:{customValues:Y_TICKS[i], fontSize:tickFs, color:'#4d4d4d', margin:2, fontFamily:SANS,
      formatter:(v) => Number(v).toFixed(dec)}});
  const ys = GENE_VALUES[i];
  series.push({type:'scatter', xAxisIndex:i, yAxisIndex:i, silent:true, animation:false,
    symbolSize: big ? 3.5 : 3.1, itemStyle:{color:DOT, opacity:1},
    data: ITGAL.map((x, j) => [x, ys[j]])});
  // texts
  txt(cx, TITLE_Y[r], PANEL_TITLE, 8);
  txt(NAME_X[i], (T + B) / 2, g + '_exp', big ? 8.5 : 7, {rot: Math.PI / 2});
  const off = big ? [14, 23, 31.5] : [10.5, 16.8, 23.2];
  const fs = big ? 8.6 : 7.6;
  txt(cx, B + off[0], X_NAME, fs);
  txt(cx, B + off[1], TEST_NAME, fs);
  txt(cx, B + off[2], STATS[i], fs);
});

// Section headings
txt(7, 14, 'A', 18, {weight:'bold', align:'left', color:'#000'});
txt(35, 12, 'Chemokine', 23, {family:SERIF, align:'left', color:'#000'});
txt(7, 653, 'B', 18, {weight:'bold', align:'left', color:'#000'});
txt(35, 654, 'Receptor', 23, {family:SERIF, align:'left', color:'#000'});

chart.setOption({animation:false, backgroundColor:'#ffffff', grid, xAxis, yAxis, series, graphic});
</script></body></html>
